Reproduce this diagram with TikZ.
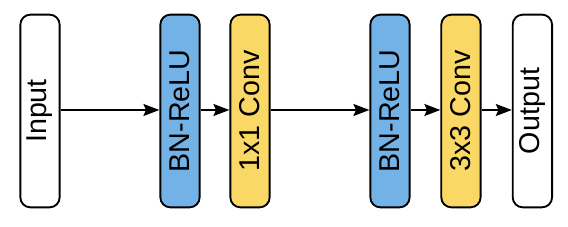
\documentclass[tikz,border=0pt]{standalone}
\usepackage{fontspec}
\setmainfont{Liberation Sans}
\usepackage{xcolor}
\usetikzlibrary{arrows.meta, positioning}
\definecolor{bnblue}{RGB}{115,178,230}
\definecolor{convyellow}{RGB}{250,216,102}

\begin{document}
\begin{tikzpicture}[>={Stealth[length=12pt, width=9pt, inset=2pt]},
  layer/.style={draw, line width=1.4pt, rounded corners=7.5pt, inner sep=0pt,
                minimum width=29.5pt, minimum height=144.5pt, font=\fontsize{21.5}{24}\selectfont},
  bnrelu/.style={layer, fill=bnblue},
  conv/.style={layer, fill=convyellow}]
  \useasboundingbox (-30pt,-87pt) rectangle (396pt,83.25pt);
  \node[layer, fill=white] (in) at (0,0) {\rotatebox{90}{Input}};
  \node[bnrelu, right=74.1pt of in] (bn1) {\rotatebox{90}{BN-ReLU}};
  \node[conv, right=21.6pt of bn1] (c1) {\rotatebox{90}{1x1 Conv}};
  \node[bnrelu, right=74.1pt of c1] (bn2) {\rotatebox{90}{BN-ReLU}};
  \node[conv, right=22.3pt of bn2] (c3) {\rotatebox{90}{3x3 Conv}};
  \node[layer, fill=white, right=22.7pt of c3] (out) {\rotatebox{90}{Output}};
  \draw[->, line width=1.4pt] ([yshift=0.75pt]in.east) -- ([yshift=0.75pt]bn1.west);
  \draw[->, line width=1.4pt] ([yshift=0.75pt]bn1.east) -- ([yshift=0.75pt]c1.west);
  \draw[->, line width=1.4pt] ([yshift=0.75pt]c1.east) -- ([yshift=0.75pt]bn2.west);
  \draw[->, line width=1.4pt] ([yshift=0.75pt]bn2.east) -- ([yshift=0.75pt]c3.west);
  \draw[->, line width=1.4pt] ([yshift=0.75pt]c3.east) -- ([yshift=0.75pt]out.west);
\end{tikzpicture}
\end{document}
